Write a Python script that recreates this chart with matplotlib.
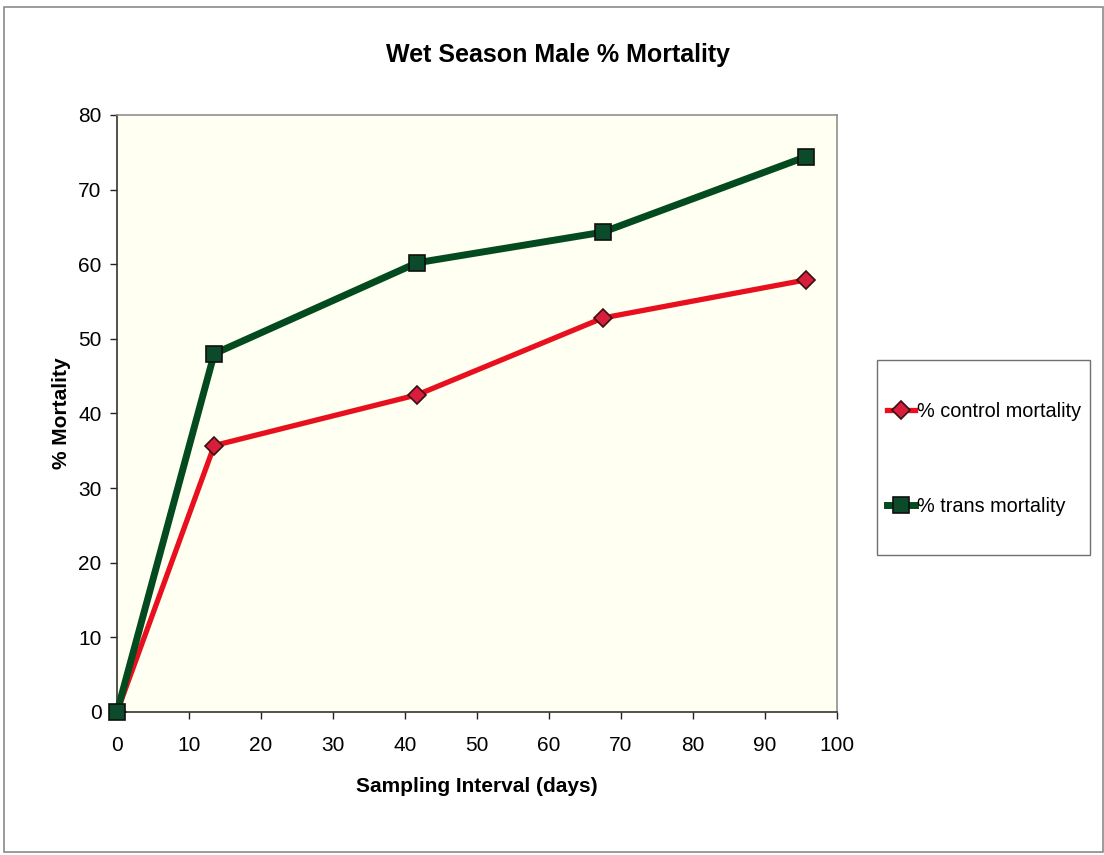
import matplotlib
matplotlib.use("Agg")
import matplotlib.pyplot as plt
from matplotlib.patches import Rectangle

plt.rcParams['font.family'] = ['Liberation Sans', 'DejaVu Sans']

# Sampling days and mortality percentages
days_control = [0, 13.5, 41.7, 67.5, 95.7]
control_mortality = [0, 35.7, 42.5, 52.8, 57.9]
days_trans = [0, 13.5, 41.7, 67.5, 95.7]
trans_mortality = [0, 48.0, 60.2, 64.3, 74.4]

x_ticks = [0, 10, 20, 30, 40, 50, 60, 70, 80, 90, 100]
y_ticks = [0, 10, 20, 30, 40, 50, 60, 70, 80]

W, H = 1104, 855
fig = plt.figure(figsize=(W / 100, H / 100), dpi=100)
fig.patch.set_facecolor('white')

# Chart-area border
fig.add_artist(Rectangle((0.004, 0.004), 0.995, 0.988, transform=fig.transFigure,
                         fill=False, edgecolor='#8a8a8a', linewidth=1.2))

ax = fig.add_axes([0.106, 0.1673, 0.652, 0.6982])
ax.set_facecolor('#FFFFF2')

ax.plot(days_control, control_mortality, color='#E8101E', linewidth=3.8,
        marker='D', markersize=9.5, markerfacecolor='#D81E3C',
        markeredgecolor='#3a1010', markeredgewidth=1.2,
        label='% control mortality', zorder=3)
ax.plot(days_trans, trans_mortality, color='#034A1F', linewidth=5.0,
        marker='s', markersize=11, markerfacecolor='#0B4A2A',
        markeredgecolor='#101010', markeredgewidth=1.2,
        label='% trans mortality', zorder=4, clip_on=False)

ax.set_xlim(0, 100)
ax.set_ylim(0, 80)
ax.set_xticks(x_ticks)
ax.set_yticks(y_ticks)
ax.tick_params(direction='out', length=5, width=1, labelsize=15,
               colors='#222222', labelcolor='black')
ax.tick_params(axis='x', pad=12)
ax.tick_params(axis='y', pad=6)

for side in ['left', 'bottom']:
    ax.spines[side].set_color('#333333')
    ax.spines[side].set_linewidth(1.2)
for side in ['top', 'right']:
    ax.spines[side].set_color('#909090')
    ax.spines[side].set_linewidth(1.2)

ax.set_xlabel('Sampling Interval (days)', fontsize=15, fontweight='bold', labelpad=16)
ax.set_ylabel('% Mortality', fontsize=15, fontweight='bold', labelpad=5)

fig.text(0.505, 0.936, 'Wet Season Male % Mortality', ha='center', va='center',
         fontsize=18, fontweight='bold')

# Legend box and entries
fig.add_artist(Rectangle((877 / W, 1 - 555 / H), 213 / W, 195 / H,
                         transform=fig.transFigure, facecolor='white',
                         edgecolor='#707070', linewidth=1.0, zorder=1))
leg = fig.legend(loc='center left', bbox_to_anchor=(887 / W, 1 - 459 / H),
                 fontsize=14.3, frameon=False, borderpad=0, labelspacing=3.85,
                 handlelength=1.4, handletextpad=0.1, borderaxespad=0)
leg.set_zorder(5)

fig.savefig('out.png', dpi=100, facecolor='white')
